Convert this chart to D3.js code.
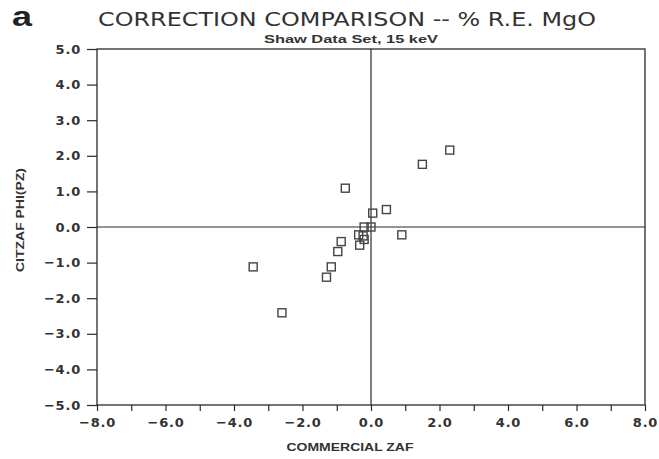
<!DOCTYPE html>
<html><head><meta charset="utf-8">
<script src="https://cdn.jsdelivr.net/npm/d3@7"></script>
<style>body{margin:0;background:#fff}</style>
</head><body><svg id="c" width="659" height="459"></svg>
<script>
const xValues = [2.3, 1.5, -0.75, 0.45, 0.05, -0.2, 0.0, -0.36, -0.23, -0.2, 0.9, -0.87, -0.33, -0.97, -3.44, -1.16, -1.3, -2.6];
const yValues = [2.16, 1.76, 1.09, 0.49, 0.39, 0.0, 0.0, -0.22, -0.25, -0.35, -0.22, -0.41, -0.51, -0.69, -1.12, -1.12, -1.41, -2.41];
const xTicks = [-8, -6, -4, -2, 0, 2, 4, 6, 8];
const xMinorTicks = [-7, -5, -3, -1, 1, 3, 5, 7];
const yTicks = [-5, -4, -3, -2, -1, 0, 1, 2, 3, 4, 5];
const title = "CORRECTION COMPARISON -- % R.E. MgO";
const subtitle = "Shaw Data Set, 15 keV";
const xLabel = "COMMERCIAL ZAF";
const yLabel = "CITZAF PHI(PZ)";

const svg = d3.select("#c");
const L = 97, R = 645, T = 49, B = 405;
const ink = "#2a2a2a";
const x = d3.scaleLinear().domain([-8, 8]).range([L, R]);
const y = d3.scaleLinear().domain([-5, 5]).range([B, T]);
const fmt = d => (d < 0 ? "\u2212" : "") + Math.abs(d).toFixed(1);
const font = "'Liberation Sans', Arial, sans-serif";
const tickFont = "'DejaVu Sans', sans-serif";

// frame
svg.append("rect").attr("x", L).attr("y", T).attr("width", R - L).attr("height", B - T)
  .attr("fill", "none").attr("stroke", ink).attr("stroke-width", 1.3);

// zero lines
svg.append("line").attr("x1", L).attr("x2", R).attr("y1", y(0)).attr("y2", y(0))
  .attr("stroke", ink).attr("stroke-width", 1.2);
svg.append("line").attr("x1", x(0)).attr("x2", x(0)).attr("y1", T).attr("y2", B)
  .attr("stroke", ink).attr("stroke-width", 1.2);

// x axis
const xAxis = d3.axisBottom(x).tickValues(xTicks).tickFormat(fmt).tickSize(6).tickPadding(7);
const gx = svg.append("g").attr("transform", `translate(0,${B})`).call(xAxis);
gx.select(".domain").remove();
gx.selectAll("line").attr("stroke", ink).attr("stroke-width", 1.2);
gx.selectAll("text").attr("fill", "#333").attr("font-family", tickFont).attr("font-size", 13)
  .attr("font-weight", "bold").attr("letter-spacing", 0.8);
const gxm = svg.append("g").attr("transform", `translate(0,${B})`)
  .call(d3.axisBottom(x).tickValues(xMinorTicks).tickFormat("").tickSize(6));
gxm.select(".domain").remove();
gxm.selectAll("line").attr("stroke", ink).attr("stroke-width", 1.2);

// y axis
const yAxis = d3.axisLeft(y).tickValues(yTicks).tickFormat(fmt).tickSize(10).tickPadding(6);
const gy = svg.append("g").attr("transform", `translate(${L},0)`).call(yAxis);
gy.select(".domain").remove();
gy.selectAll("line").attr("stroke", ink).attr("stroke-width", 1.2);
gy.selectAll("text").attr("fill", "#333").attr("font-family", tickFont).attr("font-size", 13)
  .attr("font-weight", "bold").attr("letter-spacing", 0.8);

// points
const pts = xValues.map((v, i) => ({x: v, y: yValues[i]}));
const s = 8;
svg.append("g").selectAll("rect").data(pts).join("rect")
  .attr("x", d => x(d.x) - s / 2).attr("y", d => y(d.y) - s / 2)
  .attr("width", s).attr("height", s)
  .attr("fill", "none").attr("stroke", "#444").attr("stroke-width", 1.4);

// texts
svg.append("text").attr("x", 12).attr("y", 26).text("a")
  .attr("textLength", 20).attr("lengthAdjust", "spacingAndGlyphs")
  .attr("font-family", font).attr("font-size", 27).attr("font-weight", "bold").attr("fill", "#222");
svg.append("text").attr("x", 98).attr("y", 26).text(title)
  .attr("textLength", 498).attr("lengthAdjust", "spacingAndGlyphs")
  .attr("font-family", "'DejaVu Sans', sans-serif").attr("font-size", 19).attr("fill", "#333");
svg.append("text").attr("x", 351).attr("y", 43).attr("text-anchor", "middle").text(subtitle)
  .attr("textLength", 174).attr("lengthAdjust", "spacingAndGlyphs")
  .attr("font-family", font).attr("font-size", 10.5).attr("font-weight", "bold").attr("fill", "#333");
svg.append("text").attr("x", 350).attr("y", 451).attr("text-anchor", "middle").text(xLabel)
  .attr("textLength", 127).attr("lengthAdjust", "spacingAndGlyphs")
  .attr("font-family", font).attr("font-size", 10.5).attr("font-weight", "bold").attr("fill", "#333");
svg.append("text").attr("transform", `translate(24,220) rotate(-90)`).attr("text-anchor", "middle").text(yLabel)
  .attr("textLength", 104).attr("lengthAdjust", "spacingAndGlyphs")
  .attr("font-family", font).attr("font-size", 10.5).attr("font-weight", "bold").attr("fill", "#333");
</script></body></html>
